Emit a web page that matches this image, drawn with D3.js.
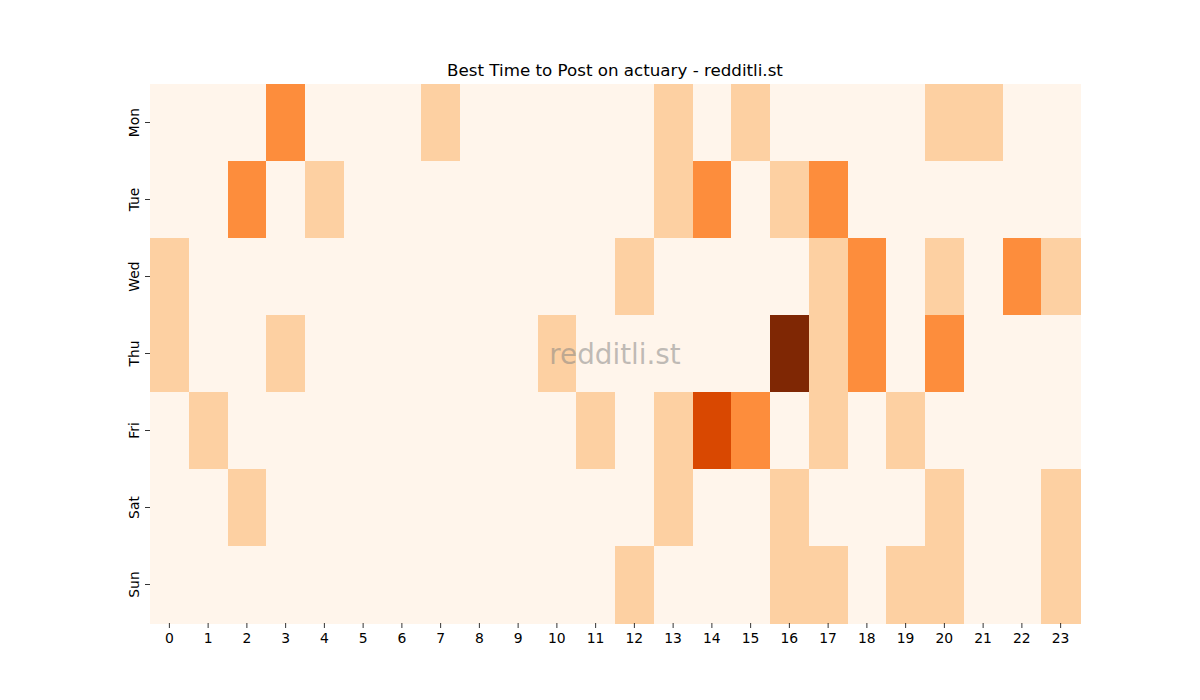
<!DOCTYPE html>
<html>
<head>
<meta charset="utf-8">
<script src="https://cdn.jsdelivr.net/npm/d3@7"></script>
<style>
body { margin: 0; background: #fff; }
svg { display: block; font-family: "DejaVu Sans", sans-serif; }
</style>
</head>
<body>
<svg id="chart" width="1200" height="700"></svg>
<script>
const days = ["Mon", "Tue", "Wed", "Thu", "Fri", "Sat", "Sun"];
const hours = d3.range(24);
const hourLabels = hours.map(String);
// counts per hour, one row per day
const mon = [0,0,0,2,0,0,0,1,0,0,0,0,0,1,0,1,0,0,0,0,1,1,0,0];
const tue = [0,0,2,0,1,0,0,0,0,0,0,0,0,1,2,0,1,2,0,0,0,0,0,0];
const wed = [1,0,0,0,0,0,0,0,0,0,0,0,1,0,0,0,0,1,2,0,1,0,2,1];
const thu = [1,0,0,1,0,0,0,0,0,0,1,0,0,0,0,0,4,1,2,0,2,0,0,0];
const fri = [0,1,0,0,0,0,0,0,0,0,0,1,0,1,3,2,0,1,0,1,0,0,0,0];
const sat = [0,0,1,0,0,0,0,0,0,0,0,0,0,1,0,0,1,0,0,0,1,0,0,1];
const sun = [0,0,0,0,0,0,0,0,0,0,0,0,1,0,0,0,1,1,0,1,1,0,0,1];
const rows = [mon, tue, wed, thu, fri, sat, sun];
const orangeStops = ["#fff5eb","#fee6ce","#fdd0a2","#fdae6b","#fd8d3c","#f16913","#d94801","#a63603","#7f2704"];

(function () {
const svg = d3.select("#chart");
const mLeft = 150, mRight = 1080, mTop = 84, mBottom = 623;

const x = d3.scaleBand().domain(hours).range([mLeft, mRight]);
const y = d3.scaleBand().domain(days).range([mTop, mBottom]);
const vmax = d3.max(rows.flat());
const color = d3.scaleLinear()
  .domain(orangeStops.map((_, i) => i * vmax / (orangeStops.length - 1)))
  .range(orangeStops);

const cells = [];
rows.forEach((r, i) => r.forEach((v, h) => cells.push({day: days[i], hour: h, v})));

svg.append("g").selectAll("rect").data(cells).join("rect")
  .attr("x", d => x(d.hour))
  .attr("y", d => y(d.day))
  .attr("width", x.bandwidth() + 0.5)
  .attr("height", y.bandwidth() + 0.5)
  .attr("fill", d => color(d.v))
  .attr("shape-rendering", "crispEdges");

// x axis
const xAxis = svg.append("g")
  .attr("transform", `translate(0,${mBottom})`)
  .call(d3.axisBottom(x).tickSize(5).tickPadding(5).tickFormat((d, i) => hourLabels[i]));
xAxis.select(".domain").remove();
xAxis.selectAll("text").attr("font-size", "13.9px").attr("fill", "#000").attr("font-family", "DejaVu Sans");
xAxis.selectAll("line").attr("stroke", "#000").attr("stroke-width", 0.8);

// y axis
const yAxis = svg.append("g")
  .attr("transform", `translate(${mLeft},0)`)
  .call(d3.axisLeft(y).tickSize(5).tickPadding(5));
yAxis.select(".domain").remove();
yAxis.selectAll("line").attr("stroke", "#000").attr("stroke-width", 0.8);
yAxis.selectAll("text")
  .attr("font-size", "13.9px").attr("fill", "#000").attr("font-family", "DejaVu Sans")
  .attr("x", null).attr("dy", null)
  .attr("text-anchor", "middle")
  .attr("transform", "translate(-11.5,0) rotate(-90)")
  .attr("dy", "0em");

// title
svg.append("text")
  .attr("x", (mLeft + mRight) / 2)
  .attr("y", 76)
  .attr("text-anchor", "middle")
  .attr("font-size", "16.7px")
  .attr("fill", "#000")
  .text("Best Time to Post on actuary - redditli.st");

// watermark
svg.append("text")
  .attr("x", (mLeft + mRight) / 2)
  .attr("y", (mTop + mBottom) / 2 + 10)
  .attr("text-anchor", "middle")
  .attr("font-size", "27.8px")
  .attr("fill", "#808080")
  .attr("fill-opacity", 0.5)
  .text("redditli.st");
})();
</script>
</body>
</html>
